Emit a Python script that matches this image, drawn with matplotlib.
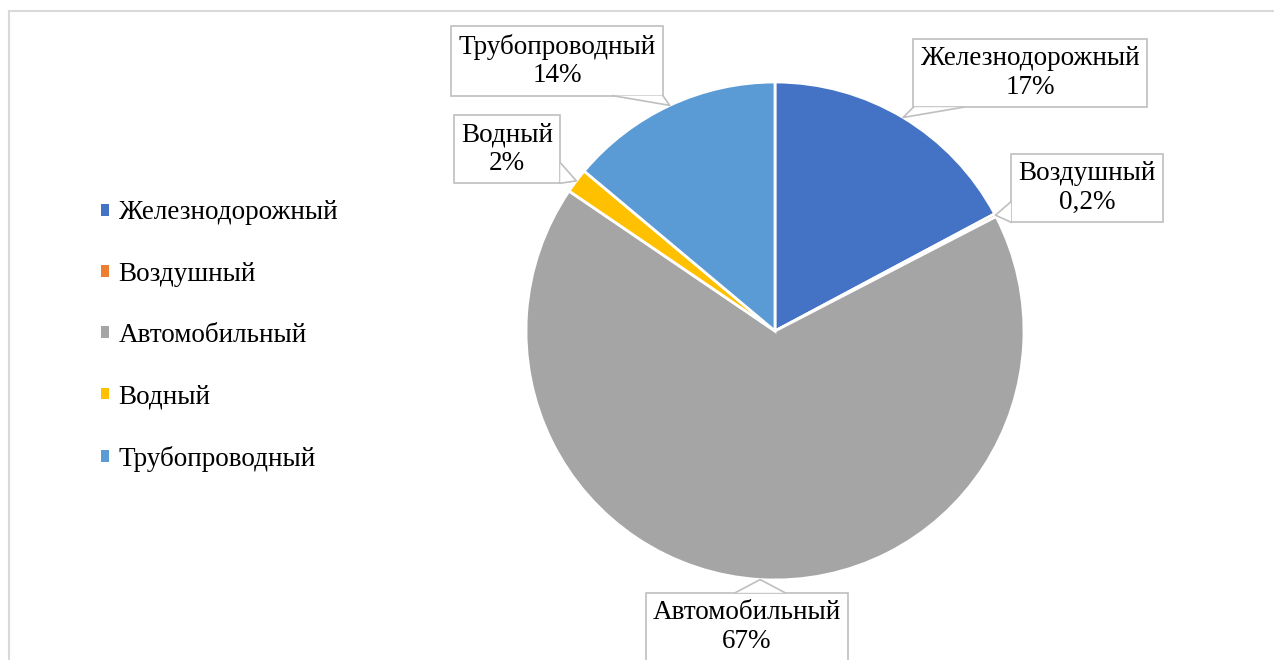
import matplotlib
matplotlib.use('Agg')
import matplotlib.pyplot as plt
from matplotlib.patches import Rectangle, Polygon
import numpy as np

plt.rcParams['font.family'] = ['Liberation Serif', 'DejaVu Serif']

categories = ['Железнодорожный', 'Воздушный', 'Автомобильный', 'Водный', 'Трубопроводный']
shares = [17.2, 0.2, 67.1, 1.6, 13.9]
colors = ['#4472C4', '#ED7D31', '#A5A5A5', '#FFC000', '#5B9BD5']

# label box centres (pixels from top-left)
label_pos = [(1030, 73), (1087, 188), (747, 627), (507, 149), (557, 61)]


def fmt(v):
    if v < 1:
        return ('%.1f' % v).replace('.', ',') + '%'
    return '%d%%' % round(v)


W, H = 1274, 660
fig = plt.figure(figsize=(W / 100, H / 100), dpi=100)
ax = fig.add_axes([0, 0, 1, 1])

cx, cy, r = 775, H - 331, 249
wedges, _ = ax.pie(shares, colors=colors, startangle=90, counterclock=False,
                   center=(cx, cy), radius=r,
                   wedgeprops=dict(edgecolor='white', linewidth=2))
ax.set_xlim(0, W)
ax.set_ylim(0, H)
ax.set_aspect('auto')
ax.axis('off')

# outer chart frame
ax.add_patch(Rectangle((8.5, -20), 1400, H - 11 + 20, fill=False,
                       ec='#d9d9d9', lw=1.5, clip_on=False))

edge_col = '#bfbfbf'
texts, tips = [], []
for w, name, v, (bx, by) in zip(wedges, categories, shares, label_pos):
    mid = np.deg2rad((w.theta1 + w.theta2) / 2)
    tips.append((cx + r * np.cos(mid), cy + r * np.sin(mid)))
    t = ax.text(bx, H - by, name + '\n' + fmt(v), ha='center', va='center',
                fontsize=19.5, color='black', linespacing=1.2, zorder=3,
                bbox=dict(boxstyle='square,pad=0.27', fc='white', ec=edge_col, lw=1.2))
    texts.append(t)

fig.canvas.draw()
inv = ax.transData.inverted()
# callout tails
for t, (tx, ty) in zip(texts, tips):
    bb = t.get_bbox_patch().get_window_extent().transformed(inv)
    x0, y0, x1, y1 = bb.x0, bb.y0, bb.x1, bb.y1
    mx, my = (x0 + x1) / 2, (y0 + y1) / 2
    dx, dy = tx - mx, ty - my
    if abs(dx) / (x1 - x0) > abs(dy) / (y1 - y0):
        ex = x1 if dx > 0 else x0
        half = min(25, (y1 - y0) * 0.15)
        c = np.clip(ty, y0 + half, y1 - half)
        b0, b1 = (ex, c - half), (ex, c + half)
    else:
        ey = y1 if dy > 0 else y0
        half = min(25, (x1 - x0) * 0.15)
        c = np.clip(tx, x0 + half, x1 - half)
        b0, b1 = (c - half, ey), (c + half, ey)
    ax.add_patch(Polygon([b0, (tx, ty), b1], closed=True, fc='white', ec='none', zorder=4))
    ax.plot([b0[0], tx, b1[0]], [b0[1], ty, b1[1]], color=edge_col, lw=1.2, zorder=5)

handles = [Rectangle((0, 0), 1, 1, fc=c, ec='none') for c in colors]
leg = ax.legend(handles, categories, loc='center left',
                bbox_to_anchor=(101 / W, (H - 336) / H), bbox_transform=fig.transFigure,
                frameon=False, fontsize=19.5, handlelength=0.3, handleheight=0.3,
                handletextpad=0.35, labelspacing=1.34, borderpad=0, borderaxespad=0)

fig.savefig('out.png', dpi=100, facecolor='white')
